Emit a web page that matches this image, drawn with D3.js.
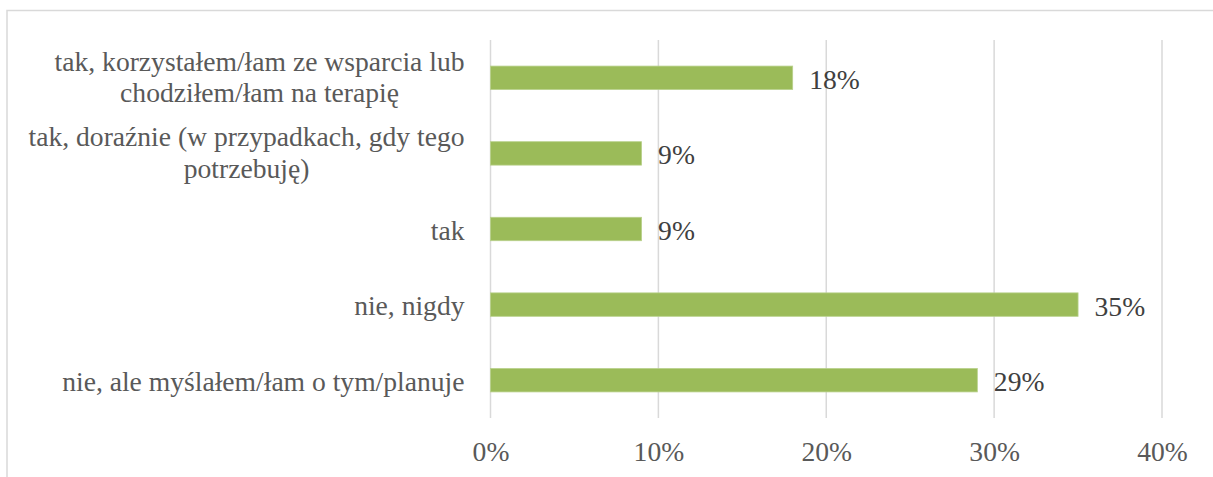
<!DOCTYPE html>
<html>
<head>
<meta charset="utf-8">
<script src="https://cdn.jsdelivr.net/npm/d3@7"></script>
<style>
  html, body { margin: 0; padding: 0; background: #ffffff; }
  svg { display: block; }
  svg text { font-family: "Liberation Serif", "Times New Roman", Times, "DejaVu Serif", serif; font-size: 27.6px; }
</style>
</head>
<body>
<svg id="chart" width="1213" height="477"></svg>
<script>
// Survey answers (top to bottom) and their shares in percent
const categories = [
  ["tak, korzystałem/łam ze wsparcia lub", "chodziłem/łam na terapię"],
  ["tak, doraźnie (w przypadkach, gdy tego", "potrzebuję)"],
  ["tak"],
  ["nie, nigdy"],
  ["nie, ale myślałem/łam o tym/planuje"]
];
const values = [18, 9, 9, 35, 29];
const tickValues = [0, 10, 20, 30, 40];

const svg = d3.select("#chart");
const W = 1213, H = 477;
const margin = { left: 490.5, right: 51, top: 40, bottom: 59 };

// outer chart frame
svg.append("rect")
  .attr("x", 7).attr("y", 10.5)
  .attr("width", W + 20).attr("height", H + 20)
  .attr("fill", "none").attr("stroke", "#d9d9d9").attr("stroke-width", 1.5);

const x = d3.scaleLinear().domain([0, 40]).range([margin.left, W - margin.right]);
const y = d3.scaleBand()
  .domain(d3.range(categories.length))
  .range([margin.top, H - margin.bottom])
  .paddingInner(0.69).paddingOuter(0.345);
const band = d3.scaleBand()
  .domain(d3.range(categories.length))
  .range([margin.top, H - margin.bottom]);

// vertical gridlines
svg.append("g")
  .selectAll("line")
  .data(tickValues)
  .join("line")
  .attr("x1", d => x(d)).attr("x2", d => x(d))
  .attr("y1", margin.top).attr("y2", H - margin.bottom)
  .attr("stroke", "#d9d9d9").attr("stroke-width", 1.5);

// x axis tick labels
const xAxis = d3.axisBottom(x)
  .tickValues(tickValues)
  .tickFormat(d => d + "%")
  .tickSize(0)
  .tickPadding(0);
const gx = svg.append("g")
  .attr("transform", `translate(0,${H - margin.bottom})`)
  .call(xAxis);
gx.select(".domain").remove();
gx.attr("font-family", null).attr("font-size", null);
gx.selectAll("text")
  .attr("y", 43).attr("dy", null)
  .attr("fill", "#595959");

// bars
svg.append("g")
  .selectAll("rect")
  .data(values)
  .join("rect")
  .attr("x", x(0))
  .attr("y", (d, i) => y(i))
  .attr("width", d => x(d) - x(0))
  .attr("height", y.bandwidth())
  .attr("fill", "#9bbb59")
  .attr("stroke", "#b9d18c").attr("stroke-width", 0.8);

// value labels
svg.append("g")
  .selectAll("text")
  .data(values)
  .join("text")
  .attr("x", d => x(d) + 16.5)
  .attr("y", (d, i) => band(i) + band.bandwidth() / 2 + 11)
  .attr("fill", "#404040")
  .text(d => d + "%");

// category labels: multi-line blocks are centred line-by-line, right-aligned as a block
const labelRight = 464.5;
const lineGap = 31.5;
const catG = svg.append("g");
categories.forEach((lines, i) => {
  const cy = band(i) + band.bandwidth() / 2;
  const t = catG.append("text").attr("fill", "#595959");
  const spans = t.selectAll("tspan").data(lines).join("tspan").text(d => d);
  if (lines.length === 1) {
    spans.attr("x", labelRight).attr("y", cy + 10.5).attr("text-anchor", "end");
  } else {
    const widths = spans.nodes().map(n => n.getComputedTextLength());
    const maxW = d3.max(widths);
    const mid = labelRight - maxW / 2;
    const firstBase = cy - 7;
    spans.attr("x", mid).attr("text-anchor", "middle")
      .attr("y", (d, k) => firstBase + k * lineGap);
  }
});
</script>
</body>
</html>
